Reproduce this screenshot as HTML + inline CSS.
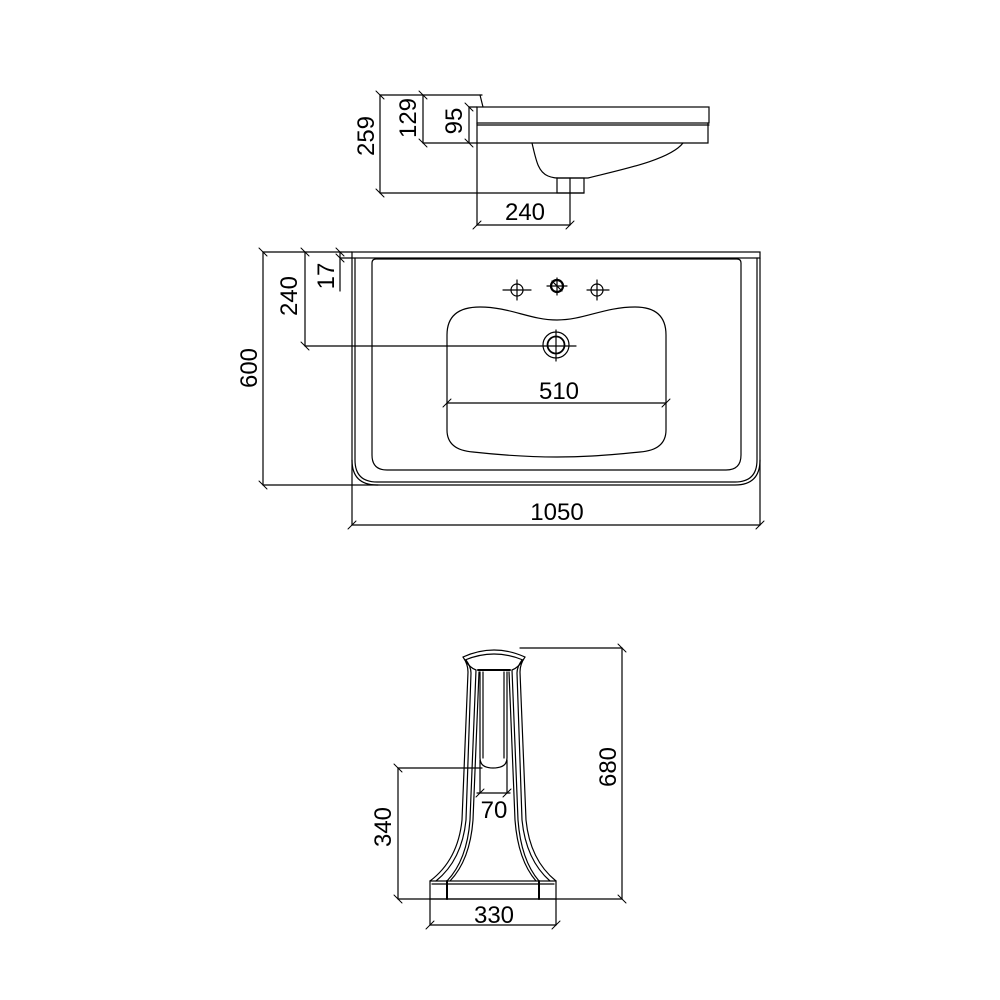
<!DOCTYPE html>
<html><head><meta charset="utf-8"><style>
html,body{margin:0;padding:0;background:#fff}
svg{display:block}
text{font-family:"Liberation Sans",Arial,sans-serif;font-size:24px;fill:#000}
</style></head><body>
<svg width="1000" height="1000" viewBox="0 0 1000 1000" xmlns="http://www.w3.org/2000/svg">
<g fill="none" stroke="#000" stroke-width="1.2" stroke-linecap="round">
<line x1="380" y1="95" x2="482" y2="95"/>
<line x1="380" y1="95" x2="380" y2="193"/>
<line x1="380" y1="193" x2="584" y2="193"/>
<line x1="423" y1="95" x2="423" y2="143"/>
<line x1="423" y1="143" x2="477" y2="143"/>
<line x1="469" y1="107" x2="469" y2="143"/>
<line x1="469" y1="107" x2="477" y2="107"/>
<line x1="477" y1="143" x2="477" y2="225"/>
<line x1="570" y1="178" x2="570" y2="225"/>
<line x1="477" y1="225" x2="570" y2="225"/>
<g stroke-width="1">
<line x1="376" y1="91" x2="384" y2="99"/><line x1="376" y1="189" x2="384" y2="197"/>
<line x1="419" y1="91" x2="427" y2="99"/><line x1="419" y1="139" x2="427" y2="147"/>
<line x1="465" y1="103" x2="473" y2="111"/><line x1="465" y1="139" x2="473" y2="147"/>
<line x1="473" y1="229" x2="481" y2="221"/><line x1="566" y1="229" x2="574" y2="221"/>
</g>
<path d="M480 95 L483 107"/>
<rect x="477" y="107" width="232" height="16"/>
<line x1="477" y1="125" x2="709" y2="125"/>
<path d="M477 123 L477 143 L708 143 L708 123"/>
<path d="M532 143 C536 160 538 172 548 176 C553 178 556 178 560 178 L588 178 C620 170 670 160 683 143"/>
<rect x="557" y="178" width="27" height="15"/>

<line x1="263" y1="252" x2="352" y2="252"/>
<line x1="263" y1="252" x2="263" y2="485"/>
<line x1="263" y1="485" x2="378" y2="485"/>
<line x1="305" y1="252" x2="305" y2="346"/>
<line x1="305" y1="346" x2="576" y2="346"/>
<line x1="340" y1="252" x2="340" y2="291"/>
<line x1="340" y1="258" x2="352" y2="258"/>
<line x1="352" y1="460" x2="352" y2="525"/>
<line x1="760" y1="460" x2="760" y2="525"/>
<line x1="352" y1="525" x2="760" y2="525"/>
<line x1="447" y1="403" x2="666" y2="403"/>
<g stroke-width="1">
<line x1="259" y1="248" x2="267" y2="256"/><line x1="259" y1="481" x2="267" y2="489"/>
<line x1="301" y1="248" x2="309" y2="256"/><line x1="301" y1="342" x2="309" y2="350"/>
<line x1="336" y1="248" x2="344" y2="256"/><line x1="336" y1="254" x2="344" y2="262"/>
<line x1="348" y1="529" x2="356" y2="521"/><line x1="756" y1="529" x2="764" y2="521"/>
<line x1="443" y1="407" x2="451" y2="399"/><line x1="662" y1="407" x2="670" y2="399"/>
</g>
<rect x="352" y="252" width="408" height="6"/>
<path d="M352 258 L352 460 Q352 485 377 485 L735 485 Q760 485 760 460 L760 258"/>
<path d="M355 258 L355 460 Q355 482 377 482 L735 482 Q757 482 757 460 L757 258"/>
<path d="M372 263 Q372 259 376 259 L737 259 Q741 259 741 263 L741 455 Q741 470 726 470 L387 470 Q372 470 372 455 Z"/>
<path d="M447 335 Q447 307 480 307 C510 307 530 320 557 320 C584 320 604 307 635 307 Q666 307 666 335 L666 430 Q666 450 640 452 C600 456 580 457 557 457 C530 457 500 455 473 452 Q447 450 447 430 Z"/>
<circle cx="517" cy="290" r="6"/><line x1="503" y1="290" x2="531" y2="290"/><line x1="517" y1="280" x2="517" y2="300"/>
<circle cx="557" cy="286" r="6" stroke-width="2.2"/><line x1="547" y1="286" x2="567" y2="286"/><line x1="557" y1="278" x2="557" y2="295"/><line x1="552" y1="281" x2="562" y2="291"/>
<circle cx="597" cy="290" r="6"/><line x1="587" y1="290" x2="609" y2="290"/><line x1="597" y1="280" x2="597" y2="300"/>
<circle cx="556" cy="345" r="13"/><circle cx="556" cy="345" r="8.5" stroke-width="1.8"/>
<line x1="556" y1="330" x2="556" y2="361"/>

<line x1="520" y1="648" x2="622" y2="648"/>
<line x1="622" y1="648" x2="622" y2="899"/>
<line x1="398" y1="899" x2="622" y2="899"/>
<line x1="398" y1="768" x2="398" y2="899"/>
<line x1="398" y1="768" x2="482" y2="768"/>
<line x1="480" y1="760" x2="480" y2="793"/>
<line x1="507" y1="760" x2="507" y2="793"/>
<line x1="477" y1="793" x2="510" y2="793"/>
<line x1="430" y1="899" x2="430" y2="925"/>
<line x1="556" y1="899" x2="556" y2="925"/>
<line x1="430" y1="925" x2="556" y2="925"/>
<g stroke-width="1">
<line x1="618" y1="644" x2="626" y2="652"/><line x1="618" y1="895" x2="626" y2="903"/>
<line x1="394" y1="764" x2="402" y2="772"/><line x1="394" y1="895" x2="402" y2="903"/>
<line x1="476" y1="797" x2="484" y2="789"/><line x1="503" y1="797" x2="511" y2="789"/>
<line x1="426" y1="929" x2="434" y2="921"/><line x1="552" y1="929" x2="560" y2="921"/>
</g>
<path d="M463 657 Q494 643 525 657"/>
<path d="M465 660 Q494 648 523 660"/>
<path d="M465 660 Q470 668 476 670 M523 660 Q518 668 512 670"/>
<line x1="478" y1="670" x2="510" y2="670" stroke-width="2"/>
<path d="M463 657 Q468 664 468 672 L462 820 Q458 860 430 881"/>
<path d="M466 660 Q471 667 471 673 L466 820 Q462 860 436 881"/>
<path d="M525 657 Q520 664 520 672 L526 820 Q530 860 556 881"/>
<path d="M522 660 Q517 667 517 673 L522 820 Q526 860 550 881"/>
<path d="M476 670 L470 820 Q467 860 447 881"/>
<path d="M479 672 L473 820 Q470 860 450 881"/>
<path d="M512 670 L518 820 Q521 860 539 881"/>
<path d="M509 672 L515 820 Q518 860 536 881"/>
<path d="M480 672 L480 758 Q480 768 493 768 Q507 768 507 758 L507 672"/>
<path d="M483 672 L483 758 M504 672 L504 758"/>
<rect x="430" y="881" width="126" height="18"/>
<line x1="432" y1="884" x2="554" y2="884"/>
<line x1="447" y1="881" x2="447" y2="899" stroke-width="2"/>
<line x1="539" y1="881" x2="539" y2="899" stroke-width="2"/>
</g>
<text transform="translate(374,136) rotate(-90)" text-anchor="middle">259</text>
<text transform="translate(416,118) rotate(-90)" text-anchor="middle">129</text>
<text transform="translate(462,121) rotate(-90)" text-anchor="middle">95</text>
<text x="525" y="220" text-anchor="middle">240</text>
<text transform="translate(257,368) rotate(-90)" text-anchor="middle">600</text>
<text transform="translate(297,296) rotate(-90)" text-anchor="middle">240</text>
<text transform="translate(334,276) rotate(-90)" text-anchor="middle">17</text>
<text x="559" y="399" text-anchor="middle">510</text>
<text x="557" y="520" text-anchor="middle">1050</text>
<text transform="translate(616,767) rotate(-90)" text-anchor="middle">680</text>
<text transform="translate(391,827) rotate(-90)" text-anchor="middle">340</text>
<text x="494" y="818" text-anchor="middle">70</text>
<text x="494" y="923" text-anchor="middle">330</text>
</svg>
</body></html>
